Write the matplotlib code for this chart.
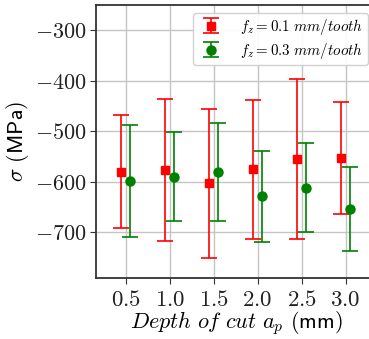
import matplotlib
matplotlib.use("Agg")
import matplotlib.pyplot as plt
import numpy as np
from matplotlib.ticker import FuncFormatter

plt.rcParams["mathtext.fontset"] = "cm"

# depth of cut (mm)
depth = [0.5, 1.0, 1.5, 2.0, 2.5, 3.0]

# residual stress, fz = 0.1 mm/tooth
sigma_f01 = [-580, -576, -603, -575, -555, -553]
err_f01 = [112, 141, 148, 137, 158, 111]

# residual stress, fz = 0.3 mm/tooth
sigma_f03 = [-598, -590, -581, -628, -611, -654]
err_f03 = [110, 88, 97, 90, 88, 83]

offset = 0.05

fig = plt.figure(figsize=(3.69, 3.39), dpi=100)
left, bottom = 95.5 / 369, 61 / 339
ax = fig.add_axes([left, bottom, 1.02 - left, 273 / 339])
ax_w = (1.02 - left) * 369

x = np.array(depth)
ax.errorbar(x - offset, sigma_f01, yerr=err_f01, fmt="s", color="red",
            ms=6, capsize=5.5, elinewidth=1.2, capthick=1.2,
            label=r"$f_z = \mathsf{0.1}\ mm/tooth$", zorder=3)
ax.errorbar(x + offset, sigma_f03, yerr=err_f03, fmt="o", color="green",
            ms=6.5, capsize=5.5, elinewidth=1.2, capthick=1.2,
            label=r"$f_z = \mathsf{0.3}\ mm/tooth$", zorder=3)

ax.set_xlim(0.157, 3.35)
ax.set_ylim(-790, -250)
ax.set_xticks(depth)
ax.set_yticks([-700, -600, -500, -400, -300])
ax.xaxis.set_major_formatter(FuncFormatter(lambda v, p: r"$\mathsf{%.1f}$" % v))
ax.yaxis.set_major_formatter(FuncFormatter(lambda v, p: r"$%d$" % v))
ax.tick_params(axis="y", labelsize=16, length=4, width=0.8, colors="#333333",
               labelcolor="#222222", pad=2)
ax.tick_params(axis="x", labelsize=16.5, length=4, width=0.8, colors="#333333",
               labelcolor="#222222", pad=3)
ax.grid(True, color="#c4c4c4", linewidth=1.0)
ax.set_axisbelow(True)
for s in ax.spines.values():
    s.set_color("#333333")
    s.set_linewidth(1.3)

ax.set_xlabel(r"$Depth\ of\ cut\ a_p$ $\mathsf{(mm)}$", fontsize=16, labelpad=-1)
ax.set_ylabel(r"$\sigma$ $\mathsf{(MPa)}$", fontsize=16, labelpad=3)

ax.legend(loc="upper right", fontsize=10.8, framealpha=0.9,
          borderaxespad=0.5, bbox_to_anchor=((375 - 95.5) / ax_w, 1),
          handlelength=1.9, handletextpad=0.95, borderpad=0.3,
          labelspacing=0.25)

fig.savefig("out.png", dpi=100)
